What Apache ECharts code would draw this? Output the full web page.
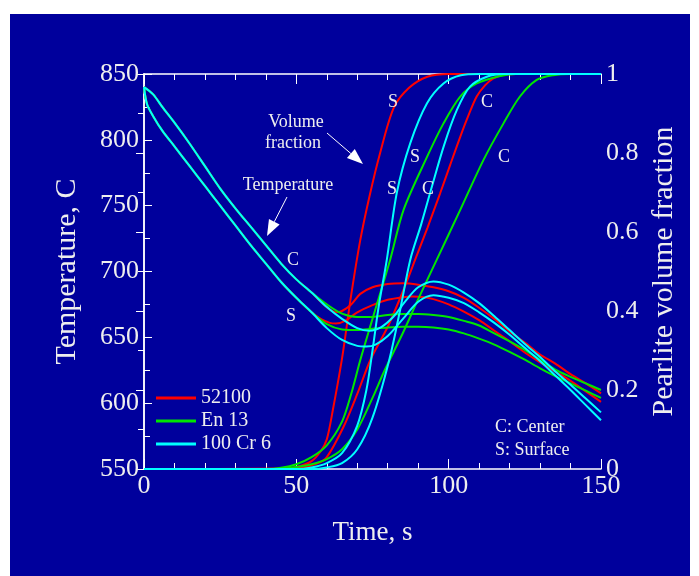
<!DOCTYPE html>
<html>
<head>
<meta charset="utf-8">
<script src="https://cdn.jsdelivr.net/npm/echarts@6/dist/echarts.min.js"></script>
<style>
  html, body { margin: 0; padding: 0; background: #ffffff; }
  #chart { width: 699px; height: 576px; }
</style>
</head>
<body>
<div id="chart"></div>
<script>
// Cooling of a bar: temperature (left axis) and pearlite fraction (right axis)
const steels = ['52100', 'En 13', '100 Cr 6'];
const colors = ['#ff0000', '#00e600', '#00ffff'];

// Temperature [time s, deg C] - shared cooling before transformation
const tempCenterCommon = [[0,840],[3,834.5],[6,825],[10,813],[15,797],[20,780],[25,763],[30,748],[35,734],[40,720],[45,706],[50,694],[55,684]];
const tempSurfaceCommon = [[0,840],[1,827],[3,818],[6,807],[10,795],[15,780],[20,765],[25,750],[30,735],[35,720],[40,706],[45,692],[50,680],[55,669]];

// Temperature after the split, per steel
const temp52100Center = [[58,677],[61,671],[63,669],[65,670],[68,675],[71,683],[75,688],[80,690.5],[85,691],[90,690],[95,688],[100,685],[105,680],[110,672.5],[115,664],[120,654.5],[125,646],[130,637],[135,630],[140,622],[145,615],[150,607.5]];
const temp52100Surface = [[58,664],[61,661],[63,660.5],[66,662.5],[70,669],[75,674.5],[80,678.5],[85,680.5],[88,681],[92,680.5],[95,679],[100,675],[105,669.5],[110,663],[115,655],[120,647],[125,638.5],[130,631],[135,624],[140,617],[145,609],[150,601]];
const tempEn13Center = [[60,675],[65,668],[70,665.5],[75,665.5],[80,667],[85,667.8],[90,667.8],[95,667],[100,665.5],[105,662.5],[110,659],[115,653],[120,647],[125,640.5],[130,633],[135,625.5],[140,620],[145,615],[150,610]];
const tempEn13Surface = [[60,660],[65,656],[70,655.5],[75,656.5],[80,657.5],[85,658],[90,658],[95,657.5],[100,656],[105,653],[110,649],[115,644.5],[120,639],[125,633],[130,626.5],[135,620.5],[140,615],[145,609.5],[150,604]];
const temp100Cr6Center = [[60,673],[65,664],[70,657],[74,655],[78,658],[82,666],[86,678],[90,688],[95,692.5],[100,690],[105,684],[110,676],[115,666],[120,655.5],[125,645],[130,635],[135,624],[140,614],[145,603.5],[150,593]];
const temp100Cr6Surface = [[60,657],[65,648],[70,643.5],[73,643],[76,644.5],[80,651],[85,664],[90,677],[95,682],[100,680],[105,676],[110,669],[115,661],[120,652],[125,642],[130,632],[135,621],[140,610],[145,598.5],[150,587]];

// Pearlite volume fraction [time s, fraction]
const frac52100Surface = [[0,0],[45,0],[50,0.005],[55,0.02],[58,0.045],[60,0.075],[62,0.15],[65,0.28],[68,0.44],[71,0.58],[74,0.69],[77.5,0.80],[82,0.915],[87,0.965],[93,0.993],[100,1],[150,1]];
const frac52100Center = [[0,0],[50,0.002],[56.8,0.014],[60,0.03],[65.5,0.107],[70,0.19],[74.3,0.276],[80,0.36],[85,0.45],[89,0.53],[93,0.61],[97.2,0.698],[100.5,0.77],[103.8,0.841],[106.5,0.895],[109.2,0.943],[112,0.972],[114.7,0.989],[118,0.998],[122,1],[150,1]];
const fracEn13Surface = [[0,0],[40,0],[45,0.003],[50,0.012],[55,0.03],[60,0.06],[65,0.12],[68,0.19],[71,0.276],[75,0.38],[80.8,0.53],[85.2,0.656],[92.9,0.79],[98.3,0.875],[103.8,0.943],[109.2,0.976],[117,0.995],[122,1],[150,1]];
const fracEn13Center = [[0,0],[45,0],[50,0.005],[55,0.012],[60,0.025],[65,0.05],[70,0.1],[75,0.18],[79,0.25],[85,0.345],[90,0.43],[96.1,0.53],[103.8,0.656],[111.4,0.782],[118,0.875],[123.4,0.943],[128.9,0.985],[134.3,0.997],[140,1],[150,1]];
const frac100Cr6Surface = [[0,0],[50,0],[55,0.004],[60,0.015],[65,0.04],[70,0.11],[73,0.2],[75,0.3],[77,0.41],[79.7,0.53],[83,0.70],[87.4,0.825],[92.9,0.926],[98.3,0.976],[104,0.997],[110,1],[150,1]];
const frac100Cr6Center = [[0,0],[55,0],[60,0.004],[65,0.015],[70,0.05],[75,0.13],[80.5,0.276],[84,0.4],[87.4,0.53],[91,0.62],[94.5,0.715],[98.5,0.82],[102.7,0.909],[107,0.968],[112.5,0.993],[118,1],[150,1]];

const xTicks = { min: 0, max: 150, step: 50 };
const tempTicks = { min: 550, max: 850, step: 50 };
const fracTicks = { min: 0, max: 1, step: 0.2 };

const temps = [
  [temp52100Center, temp52100Surface],
  [tempEn13Center, tempEn13Surface],
  [temp100Cr6Center, temp100Cr6Surface]
];
const fracs = [
  [frac52100Surface, frac52100Center],
  [fracEn13Surface, fracEn13Center],
  [frac100Cr6Surface, frac100Cr6Center]
];

const serif = 'Liberation Serif';
const ink = '#eeeeee';

function lineSeries(name, i, axis, data) {
  return { name, type: 'line', yAxisIndex: axis, data, smooth: 0.3,
    showSymbol: false, lineStyle: { color: colors[i], width: 2 }, itemStyle: { color: colors[i] }, z: 3 + i };
}

const series = [];
steels.forEach((name, i) => {
  const [c, s] = temps[i];
  series.push(lineSeries(name, i, 0, tempCenterCommon.concat(c)));
  series.push(lineSeries(name, i, 0, tempSurfaceCommon.concat(s)));
  fracs[i].forEach(d => series.push(lineSeries(name, i, 1, d)));
});

function txt(x, y, s, size, align) {
  return { type: 'text', x, y, z: 50, style: { text: s, fill: ink, font: size + 'px "' + serif + '"',
    textAlign: align || 'center', textVerticalAlign: 'middle' } };
}
function arrow(x1, y1, x2, y2) {
  const a = Math.atan2(y2 - y1, x2 - x1), L = 16, W = 6;
  const bx = x2 - L * Math.cos(a), by = y2 - L * Math.sin(a);
  const px = -Math.sin(a) * W, py = Math.cos(a) * W;
  return [
    { type: 'line', z: 50, shape: { x1, y1, x2: bx, y2: by }, style: { stroke: '#ffffff', lineWidth: 1 } },
    { type: 'polygon', z: 50, shape: { points: [[x2, y2], [bx + px, by + py], [bx - px, by - py]] }, style: { fill: '#ffffff' } }
  ];
}

const chart = echarts.init(document.getElementById('chart'), null, { renderer: 'canvas' });
const axisLine = { show: true, lineStyle: { color: '#ffffff', width: 1.5 } };
chart.setOption({
  backgroundColor: '#ffffff',
  animation: false,
  grid: { left: 144, right: 98, top: 74, bottom: 107 },
  legend: {
    data: steels, orient: 'vertical', left: 151, top: 383, icon: 'rect',
    itemWidth: 40, itemHeight: 3, itemGap: 3, selectedMode: false,
    textStyle: { color: ink, fontFamily: serif, fontSize: 20, lineHeight: 20 }
  },
  xAxis: [
    { type: 'value', min: xTicks.min, max: xTicks.max, interval: xTicks.step, position: 'bottom',
      name: 'Time, s', nameLocation: 'middle', nameGap: 50,
      nameTextStyle: { color: ink, fontFamily: serif, fontSize: 27 },
      axisLine, axisTick: { inside: true, length: 10, lineStyle: { color: '#ffffff' } },
      minorTick: { show: true, splitNumber: 5, length: 6, lineStyle: { color: '#ffffff' } },
      axisLabel: { color: ink, fontFamily: serif, fontSize: 26, margin: 4 },
      splitLine: { show: false } },
    { type: 'value', min: xTicks.min, max: xTicks.max, interval: xTicks.step, position: 'top',
      axisLine, axisTick: { inside: true, length: 10, lineStyle: { color: '#ffffff' } },
      minorTick: { show: true, splitNumber: 5, length: 6, lineStyle: { color: '#ffffff' } },
      axisLabel: { show: false }, splitLine: { show: false } }
  ],
  yAxis: [
    { type: 'value', min: tempTicks.min, max: tempTicks.max, interval: tempTicks.step, position: 'left',
      name: 'Temperature, C', nameLocation: 'middle', nameGap: 62, nameRotate: 90,
      nameTextStyle: { color: ink, fontFamily: serif, fontSize: 30 },
      axisLine, axisTick: { inside: true, length: 8, lineStyle: { color: '#ffffff' } },
      minorTick: { show: true, splitNumber: 2, length: 6, lineStyle: { color: '#ffffff' } },
      axisLabel: { color: ink, fontFamily: serif, fontSize: 26, margin: 5 },
      splitLine: { show: false } },
    { type: 'value', min: fracTicks.min, max: fracTicks.max, interval: fracTicks.step, position: 'right',
      name: 'Pearlite volume fraction', nameLocation: 'middle', nameGap: 46, nameRotate: 90,
      nameTextStyle: { color: ink, fontFamily: serif, fontSize: 30 },
      axisLine, axisTick: { inside: true, length: 8, lineStyle: { color: '#ffffff' } },
      minorTick: { show: true, splitNumber: 2, length: 6, lineStyle: { color: '#ffffff' } },
      axisLabel: { color: ink, fontFamily: serif, fontSize: 26, margin: 5 },
      splitLine: { show: false } }
  ],
  graphic: [
    { type: 'rect', z: -10, silent: true, shape: { x: 10, y: 14, width: 680, height: 562 }, style: { fill: '#00009c' } },
    txt(296, 122, 'Volume', 18), txt(293, 143, 'fraction', 18),
    txt(288, 185, 'Temperature', 18),
    ...arrow(327, 133, 363, 164),
    ...arrow(287, 197, 267, 236),
    txt(393, 102, 'S', 18), txt(415, 157, 'S', 18), txt(392, 189, 'S', 18),
    txt(428, 189, 'C', 18), txt(487, 102, 'C', 18), txt(504, 157, 'C', 18),
    txt(293, 260, 'C', 18), txt(291, 316, 'S', 18),
    txt(495, 427, 'C: Center', 18, 'left'), txt(495, 450, 'S: Surface', 18, 'left')
  ],
  series
});
</script>
</body>
</html>
